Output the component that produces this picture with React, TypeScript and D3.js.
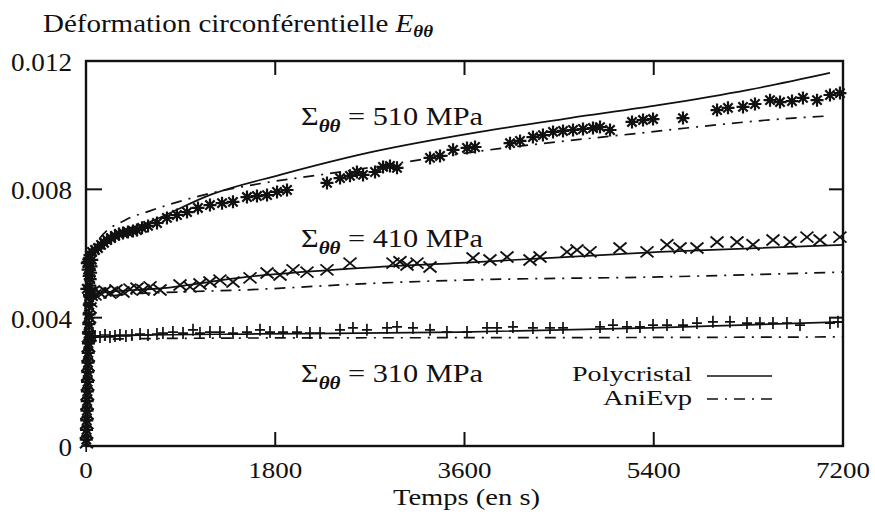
import React from 'react';
import * as d3 from 'd3';

// ---------- axes ----------
const X_TICKS = [0, 1800, 3600, 5400, 7200];
const X_TICK_LABELS = ['0', '1800', '3600', '5400', '7200'];
const Y_TICKS = [0, 0.004, 0.008, 0.012];
const Y_TICK_LABELS = ['0', '0.004', '0.008', '0.012'];

// ---------- model curves (time in s, strain) ----------
const POLY510_T = [0, 133, 323, 580, 1200, 1845, 2700, 3747, 4600, 5459, 6300, 7076];
const POLY510_V = [0.00564, 0.00627, 0.00667, 0.00695, 0.00785, 0.00845, 0.00915, 0.00979, 0.01022, 0.01063, 0.01110, 0.01163];
const ANI510_T = [0, 133, 371, 609, 1113, 1750, 2226, 3909, 5203, 6724, 7076];
const ANI510_V = [0.00573, 0.00648, 0.00704, 0.00733, 0.00782, 0.00823, 0.00845, 0.00926, 0.00973, 0.01022, 0.01029];
const POLY410_T = [0, 133, 732, 1531, 2482, 3747, 5459, 7200];
const POLY410_V = [0.00464, 0.00477, 0.00492, 0.00527, 0.00552, 0.00574, 0.00605, 0.00627];
const ANI410_T = [0, 323, 894, 1465, 2796, 3586, 5459, 7200];
const ANI410_V = [0.00455, 0.00471, 0.00480, 0.00486, 0.00508, 0.00517, 0.00527, 0.00542];
const POLY310_T = [0, 133, 609, 1531, 3557, 5459, 7200];
const POLY310_V = [0.00330, 0.00340, 0.00346, 0.00349, 0.00355, 0.00369, 0.00387];
const ANI310_T = [0, 323, 2035, 4889, 7200];
const ANI310_V = [0.00324, 0.00334, 0.00337, 0.00338, 0.00340];

// ---------- experimental points: loading phase ----------
const LOAD510_T = [3, 5, 7, 9, 11, 13, 15, 17, 19, 21, 23, 25, 27, 29, 31, 33, 36, 40, 44, 48, 12, 55, 8, 30, 20];
const LOAD510_V = [0.0002, 0.0005, 0.0008, 0.0011, 0.0014, 0.0017, 0.0020, 0.0023, 0.0026, 0.0029, 0.0032, 0.0035, 0.0038, 0.0041, 0.0044, 0.0047, 0.0050, 0.0052, 0.0054, 0.0056, 0.0057, 0.0058, 0.0049, 0.0053, 0.0055];
const LOAD410_T = [4, 6, 8, 10, 12, 14, 16, 18, 20, 22, 24, 26, 30, 34, 38, 44, 50, 60];
const LOAD410_V = [0.0001, 0.0004, 0.0007, 0.0010, 0.0013, 0.0016, 0.0019, 0.0022, 0.0025, 0.0028, 0.0031, 0.0034, 0.0037, 0.0040, 0.0043, 0.0045, 0.0047, 0.0048];
const LOAD310_T = [2, 4, 6, 8, 10, 12, 14, 16, 18, 20, 24, 30, 45, 60];
const LOAD310_V = [0.0000, 0.0003, 0.0006, 0.0009, 0.0012, 0.0015, 0.0018, 0.0021, 0.0024, 0.0027, 0.0030, 0.0032, 0.0033, 0.0034];

// ---------- experimental points: creep phase ----------
const EXP510_T = [19, 38, 57, 86, 114, 143, 171, 200, 238, 276, 314, 352, 399, 447, 485, 533, 590, 675, 770, 865, 961,
  1065, 1179, 1294, 1398, 1531, 1626, 1722, 1817, 1912, 2292, 2416, 2511, 2577, 2635, 2749, 2825,
  2891, 2958, 3272, 3367, 3491, 3624, 3700, 4033, 4128, 4251, 4346, 4442, 4537, 4632, 4727, 4822,
  4889, 4984, 5193, 5298, 5393, 5678, 6002, 6106, 6249, 6363, 6506, 6601, 6715, 6819, 6953, 7076, 7171];
const EXP510_V = [0.00574, 0.00595, 0.00605, 0.00611, 0.00617, 0.00627, 0.00633, 0.00642, 0.00648, 0.00655, 0.00661, 0.00664, 0.00667, 0.00670, 0.00673, 0.00680, 0.00686, 0.00695, 0.00711, 0.00720, 0.00729,
  0.00742, 0.00751, 0.00757, 0.00761, 0.00776, 0.00779, 0.00782, 0.00792, 0.00798, 0.00820, 0.00835, 0.00842, 0.00854, 0.00845, 0.00854, 0.00870,
  0.00873, 0.00867, 0.00898, 0.00904, 0.00923, 0.00929, 0.00932, 0.00944, 0.00951, 0.00963, 0.00969, 0.00979, 0.00982, 0.00985, 0.00988, 0.00991,
  0.00994, 0.00985, 0.01010, 0.01016, 0.01019, 0.01022, 0.01047, 0.01054, 0.01057, 0.01066, 0.01078, 0.01072, 0.01075, 0.01085, 0.01078, 0.01094, 0.01100];

const EXP410_T = [38, 86, 133, 181, 228, 285, 352, 418, 485, 542, 609, 704, 894, 989, 1084, 1179, 1274, 1398, 1560,
  1722, 1845, 1969, 2102, 2292, 2511, 2920, 2986, 3053, 3148, 3272, 3681, 3842, 4004, 4223, 4318,
  4575, 4670, 4794, 5079, 5336, 5526, 5650, 5811, 6002, 6192, 6344, 6534, 6696, 6857, 6981, 7171];
const EXP410_V = [0.00480, 0.00471, 0.00477, 0.00483, 0.00477, 0.00486, 0.00480, 0.00489, 0.00492, 0.00486, 0.00496, 0.00486, 0.00502, 0.00496, 0.00505, 0.00511, 0.00517, 0.00511, 0.00524,
  0.00539, 0.00533, 0.00549, 0.00542, 0.00549, 0.00570, 0.00570, 0.00574, 0.00564, 0.00570, 0.00558, 0.00586, 0.00580, 0.00589, 0.00580, 0.00589,
  0.00605, 0.00611, 0.00605, 0.00617, 0.00605, 0.00627, 0.00617, 0.00617, 0.00636, 0.00636, 0.00627, 0.00642, 0.00636, 0.00651, 0.00642, 0.00651];

const EXP310_T = [38, 86, 133, 181, 228, 276, 323, 380, 437, 514, 590, 675, 732, 827, 923, 1018, 1084, 1179, 1274,
  1398, 1531, 1655, 1750, 1874, 2007, 2130, 2226, 2416, 2539, 2672, 2863, 2958, 3110, 3272, 3433,
  3624, 3814, 3909, 4061, 4251, 4413, 4537, 4889, 5012, 5145, 5269, 5393, 5526, 5678, 5811, 5963,
  6125, 6287, 6410, 6534, 6667, 6791, 7076, 7152];
const EXP310_V = [0.00337, 0.00343, 0.00340, 0.00346, 0.00340, 0.00343, 0.00346, 0.00343, 0.00346, 0.00349, 0.00346, 0.00349, 0.00352, 0.00355, 0.00352, 0.00362, 0.00352, 0.00355, 0.00355,
  0.00352, 0.00355, 0.00362, 0.00355, 0.00355, 0.00355, 0.00352, 0.00352, 0.00362, 0.00368, 0.00362, 0.00368, 0.00371, 0.00368, 0.00362, 0.00355,
  0.00355, 0.00368, 0.00368, 0.00371, 0.00368, 0.00368, 0.00368, 0.00371, 0.00377, 0.00371, 0.00371, 0.00377, 0.00377, 0.00377, 0.00383, 0.00387,
  0.00387, 0.00383, 0.00383, 0.00383, 0.00383, 0.00377, 0.00383, 0.00387];

const LEVEL_LABELS = ['510', '410', '310'];
const LEGEND_NAMES = ['Polycristal', 'AniEvp'];

// ---------- layout ----------
const W = 875;
const H = 524;
const M = { left: 86, right: 843, top: 61, bottom: 446 };
const FONT = '"Liberation Serif", "Times New Roman", serif';
const INK = '#111';
const DASHDOT = '11 7 2 7';
const FS = 26;
const FS_SMALL = 24;
const FS_LEGEND = 22;

const x = d3.scaleLinear().domain([0, 7200]).range([M.left, M.right]);
const y = d3.scaleLinear().domain([0, 0.012]).range([M.bottom, M.top]);

const zip = (ts: number[], vs: number[]): [number, number][] => ts.map((t, i) => [t, vs[i]]);
const line = d3
  .line<[number, number]>()
  .x((d) => x(d[0]))
  .y((d) => y(d[1]))
  .curve(d3.curveMonotoneX);

function asteriskPath(cx: number, cy: number, r: number) {
  const d = r * 0.72;
  return `M${cx - r},${cy}H${cx + r}M${cx},${cy - r}V${cy + r}M${cx - d},${cy - d}L${cx + d},${cy + d}M${cx - d},${cy + d}L${cx + d},${cy - d}`;
}
function crossPath(cx: number, cy: number, rx: number, ry: number) {
  return `M${cx - rx},${cy - ry}L${cx + rx},${cy + ry}M${cx - rx},${cy + ry}L${cx + rx},${cy - ry}`;
}
function plusPath(cx: number, cy: number, rx: number, ry: number) {
  return `M${cx - rx},${cy}H${cx + rx}M${cx},${cy - ry}V${cy + ry}`;
}

export default function App() {
  const p510 = zip(LOAD510_T, LOAD510_V).concat(zip(EXP510_T, EXP510_V));
  const p410 = zip(LOAD410_T, LOAD410_V).concat(zip(EXP410_T, EXP410_V));
  const p310 = zip(LOAD310_T, LOAD310_V).concat(zip(EXP310_T, EXP310_V));

  const models: { pts: [number, number][]; dash?: string }[] = [
    { pts: zip(POLY510_T, POLY510_V) },
    { pts: zip(ANI510_T, ANI510_V), dash: DASHDOT },
    { pts: zip(POLY410_T, POLY410_V) },
    { pts: zip(ANI410_T, ANI410_V), dash: DASHDOT },
    { pts: zip(POLY310_T, POLY310_V) },
    { pts: zip(ANI310_T, ANI310_V), dash: DASHDOT },
  ];

  const labelBaselines = [125, 247, 382];
  const tickLen = 14;

  return (
    <svg
      width={W}
      height={H}
      viewBox={`0 0 ${W} ${H}`}
      style={{ position: 'absolute', left: 0, top: 0, background: '#fff' }}
      fontFamily={FONT}
    >
      <rect x={0} y={0} width={W} height={H} fill="#fff" />

      {/* title */}
      <text x={43} y={32} fontSize={FS} fill={INK} textLength={390} lengthAdjust="spacingAndGlyphs">
        Déformation circonférentielle <tspan fontStyle="italic">E</tspan>
        <tspan fontStyle="italic" fontWeight="bold" fontSize={17} dy={5}>θθ</tspan>
      </text>

      {/* model curves */}
      {models.map((m, i) => (
        <path
          key={i}
          d={line(m.pts) || ''}
          fill="none"
          stroke={INK}
          strokeWidth={1.7}
          strokeDasharray={m.dash}
        />
      ))}

      {/* experimental markers */}
      <g stroke={INK} fill="none" strokeLinecap="butt">
        <g strokeWidth={1.7}>
          {p310.map((d, i) => (
            <path key={'p' + i} d={plusPath(x(d[0]), y(d[1]), 5, 6)} />
          ))}
        </g>
        <g strokeWidth={1.9}>
          {p410.map((d, i) => (
            <path key={'x' + i} d={crossPath(x(d[0]), y(d[1]), 6.5, 5.5)} />
          ))}
        </g>
        <g strokeWidth={2.2}>
          {p510.map((d, i) => (
            <path key={'a' + i} d={asteriskPath(x(d[0]), y(d[1]), 6.5)} />
          ))}
        </g>
      </g>

      {/* frame */}
      <rect
        x={M.left}
        y={M.top}
        width={M.right - M.left}
        height={M.bottom - M.top}
        fill="none"
        stroke={INK}
        strokeWidth={2.4}
      />
      {/* ticks */}
      <g stroke={INK} strokeWidth={2}>
        {X_TICKS.map((t) => (
          <g key={'xt' + t}>
            <line x1={x(t)} x2={x(t)} y1={M.bottom} y2={M.bottom - tickLen} />
            <line x1={x(t)} x2={x(t)} y1={M.top} y2={M.top + tickLen} />
          </g>
        ))}
        {Y_TICKS.map((v) => (
          <g key={'yt' + v}>
            <line x1={M.left} x2={M.left + tickLen + 2} y1={y(v)} y2={y(v)} />
            <line x1={M.right} x2={M.right - tickLen} y1={y(v)} y2={y(v)} />
          </g>
        ))}
      </g>

      {/* tick labels */}
      <g fontSize={FS_SMALL} fill={INK}>
        {X_TICKS.map((t, i) => {
          const s = X_TICK_LABELS[i];
          return (
            <text key={'xl' + t} x={x(t)} y={478} textAnchor="middle" textLength={s.length * 13.5} lengthAdjust="spacingAndGlyphs">
              {s}
            </text>
          );
        })}
      </g>
      <g fontSize={FS} fill={INK}>
        {Y_TICKS.map((v, i) => {
          const s = Y_TICK_LABELS[i];
          const w = s.replace('.', '').length * 13.5 + (s.includes('.') ? 7 : 0);
          return (
            <text key={'yl' + v} x={72} y={y(v) + 10} textAnchor="end" textLength={w} lengthAdjust="spacingAndGlyphs">
              {s}
            </text>
          );
        })}
      </g>

      {/* axis title */}
      <text x={393} y={505} fontSize={FS_SMALL} fill={INK} textLength={147} lengthAdjust="spacingAndGlyphs">
        Temps (en s)
      </text>

      {/* stress level labels */}
      {LEVEL_LABELS.map((lab, i) => (
        <text key={lab} x={301} y={labelBaselines[i]} fontSize={FS} fill={INK} textLength={182} lengthAdjust="spacingAndGlyphs">
          Σ<tspan fontStyle="italic" fontWeight="bold" fontSize={18} dy={7}>θθ</tspan>
          <tspan dy={-7}> = {lab} MPa</tspan>
        </text>
      ))}

      {/* legend */}
      <g fontSize={FS_LEGEND} fill={INK}>
        <text x={692} y={381} textAnchor="end" textLength={120} lengthAdjust="spacingAndGlyphs">
          {LEGEND_NAMES[0]}
        </text>
        <text x={692} y={405} textAnchor="end" textLength={89} lengthAdjust="spacingAndGlyphs">
          {LEGEND_NAMES[1]}
        </text>
      </g>
      <line x1={707} x2={772} y1={376} y2={376} stroke={INK} strokeWidth={1.7} />
      <line x1={707} x2={772} y1={399} y2={399} stroke={INK} strokeWidth={1.7} strokeDasharray={DASHDOT} />
    </svg>
  );
}
